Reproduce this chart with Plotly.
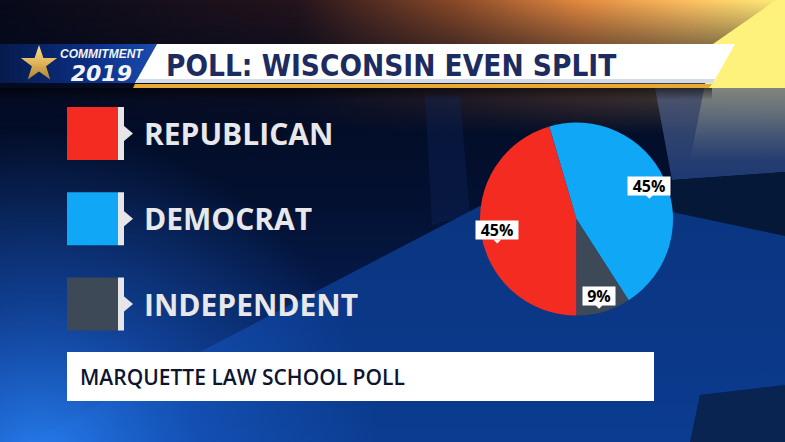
import base64
import math
import subprocess
import plotly.graph_objects as go

W, H = 785, 442

# ---------------- data ----------------
parties = ["REPUBLICAN", "DEMOCRAT", "INDEPENDENT"]
shares = [45, 45, 9]
party_colors = ["#f42b21", "#10a8f6", "#3e4957"]
title_text = "POLL: WISCONSIN EVEN SPLIT"
logo_top = "COMMITMENT"
logo_year = "2019"
source_text = "MARQUETTE LAW SCHOOL POLL"


def fam_list():
    try:
        return subprocess.run(["fc-list", ":", "family"], capture_output=True, text=True).stdout
    except Exception:
        return ""


fams = fam_list()
if "Liberation Sans Narrow" in fams:
    title_font, title_size = "Liberation Sans Narrow", 35
elif "DejaVu Sans Condensed" in fams:
    title_font, title_size = "DejaVu Sans Condensed", 29.5
else:
    title_font, title_size = "Roboto", 30


def px(x):
    return x / W


def py(y):
    return 1 - y / H


def path(points):
    return "M" + " L".join(f"{px(x):.5f},{py(y):.5f}" for x, y in points) + " Z"


# ---------------- background (decorative, gradients) ----------------
def star_pts(cx, cy, ro, ri):
    pts = []
    for k in range(10):
        a = -math.pi / 2 + k * math.pi / 5
        r = ro if k % 2 == 0 else ri
        pts.append(f"{cx + r*math.cos(a):.1f},{cy + r*math.sin(a):.1f}")
    return " ".join(pts)


svg = f'''<svg xmlns="http://www.w3.org/2000/svg" width="{W}" height="{H}" viewBox="0 0 {W} {H}">
<defs>
<linearGradient id="base" x1="0" y1="0" x2="0" y2="{H}" gradientUnits="userSpaceOnUse">
<stop offset="0" stop-color="#02081a"/>
<stop offset="0.45" stop-color="#031030"/>
<stop offset="0.8" stop-color="#06205a"/>
<stop offset="1" stop-color="#0a3580"/>
</linearGradient>
<radialGradient id="bl" cx="40" cy="470" r="340" gradientUnits="userSpaceOnUse">
<stop offset="0" stop-color="#2a84f8" stop-opacity="0.95"/>
<stop offset="0.5" stop-color="#1a60d0" stop-opacity="0.5"/>
<stop offset="1" stop-color="#1a60d0" stop-opacity="0"/>
</radialGradient>
<linearGradient id="sky" x1="0" y1="0" x2="{W}" y2="0" gradientUnits="userSpaceOnUse">
<stop offset="0" stop-color="#070a1a"/>
<stop offset="0.38" stop-color="#24141c"/>
<stop offset="0.58" stop-color="#8a4a28"/>
<stop offset="0.74" stop-color="#e48a40"/>
<stop offset="0.88" stop-color="#ffc262"/>
<stop offset="1" stop-color="#fff07a"/>
</linearGradient>
<linearGradient id="skyfade" x1="0" y1="0" x2="0" y2="135" gradientUnits="userSpaceOnUse">
<stop offset="0" stop-color="#fff"/>
<stop offset="0.33" stop-color="#888"/>
<stop offset="1" stop-color="#000"/>
</linearGradient>
<mask id="m1"><rect width="{W}" height="135" fill="url(#skyfade)"/></mask>
<linearGradient id="beamfade" x1="0" y1="0" x2="0" y2="160" gradientUnits="userSpaceOnUse">
<stop offset="0" stop-color="#fff"/>
<stop offset="0.55" stop-color="#fff"/>
<stop offset="1" stop-color="#000"/>
</linearGradient>
<mask id="m2"><rect width="{W}" height="160" fill="url(#beamfade)"/></mask>
<linearGradient id="steel" x1="0" y1="88" x2="0" y2="180" gradientUnits="userSpaceOnUse">
<stop offset="0" stop-color="#56607e"/>
<stop offset="1" stop-color="#27488a"/>
</linearGradient>
<linearGradient id="logo" x1="0" y1="0" x2="157" y2="0" gradientUnits="userSpaceOnUse">
<stop offset="0" stop-color="#061a4c"/>
<stop offset="0.6" stop-color="#0c3088"/>
<stop offset="1" stop-color="#1a4cae"/>
</linearGradient>
<linearGradient id="gold" x1="0" y1="44" x2="0" y2="82" gradientUnits="userSpaceOnUse">
<stop offset="0" stop-color="#fbe39a"/>
<stop offset="0.5" stop-color="#e0b458"/>
<stop offset="1" stop-color="#a87a2a"/>
</linearGradient>
<linearGradient id="shadow" x1="0" y1="88" x2="0" y2="100" gradientUnits="userSpaceOnUse">
<stop offset="0" stop-color="#000" stop-opacity="0.55"/>
<stop offset="1" stop-color="#000" stop-opacity="0"/>
</linearGradient>
</defs>
<rect width="{W}" height="{H}" fill="url(#base)"/>
<rect width="{W}" height="135" fill="url(#sky)" mask="url(#m1)"/>
<polygon points="713,44 776,0 785,0 785,160 690,160" fill="#fff27c" mask="url(#m2)"/>
<polygon points="655,88 785,88 785,172 672,180" fill="url(#steel)" opacity="0.75"/>
<polygon points="672,180 785,172 785,236 672,212" fill="#061838"/>
<polygon points="425,95 460,95 470,215 432,225" fill="#0f2c66" opacity="0.3"/>
<polygon points="0,456 480,206 672,212 785,236 785,385 700,395 690,442 0,442" fill="#0d3f95" opacity="0.8"/>
<polygon points="690,442 700,395 785,385 785,442" fill="#0a2452"/>
<rect width="{W}" height="{H}" fill="url(#bl)"/>
<rect x="0" y="88" width="712" height="12" fill="url(#shadow)"/>
<polygon points="0,44 157,44 135,83 0,83" fill="url(#logo)"/>
<polygon points="{star_pts(39, 64, 19, 7.5)}" fill="url(#gold)"/>
</svg>'''
bg_uri = "data:image/svg+xml;base64," + base64.b64encode(svg.encode()).decode()

fig = go.Figure()

# ---------------- pie ----------------
cx, cy = 576.5, 219.0
R = 96.5
fig.add_trace(go.Pie(
    labels=parties, values=shares, sort=False, direction="clockwise", rotation=180,
    marker=dict(colors=party_colors, line=dict(width=0)),
    textinfo="none", hoverinfo="label+value", showlegend=False,
    domain=dict(x=[px(cx - R), px(cx + R)], y=[py(cy + R), py(cy - R)]),
))

shapes = []
annotations = []

# slice value labels, placed at each slice's mid-angle
total = sum(shares)
cum = 0.0
for v in shares:
    mid = math.radians(180 + (cum + v / 2) / total * 360)
    cum += v
    lx = cx + 0.83 * R * math.sin(mid)
    ly = cy - 0.83 * R * math.cos(mid)
    annotations.append(dict(
        x=px(lx), y=py(ly), xref="paper", yref="paper", showarrow=False,
        text=f"<b>{v}%</b>", font=dict(family="Open Sans", size=16, color="#000000"),
        bgcolor="#ffffff", width=42 if v >= 10 else 32, height=18, borderpad=0,
        xanchor="center", yanchor="middle",
    ))
    shapes.append(dict(type="path", xref="paper", yref="paper",
                       path=path([(lx - 4, ly + 9), (lx + 4, ly + 9), (lx, ly + 13)]),
                       fillcolor="#ffffff", line=dict(width=0)))

# ---------------- legend (custom tabs) ----------------
for i, (name, col) in enumerate(zip(parties, party_colors)):
    c = 133.5 + i * 85.25
    shapes.append(dict(type="rect", xref="paper", yref="paper",
                       x0=px(67), x1=px(118), y0=py(c + 26.5), y1=py(c - 26.5),
                       fillcolor=col, line=dict(width=0)))
    shapes.append(dict(type="rect", xref="paper", yref="paper",
                       x0=px(118), x1=px(124), y0=py(c + 26.5), y1=py(c - 26.5),
                       fillcolor="#e6e6e8", line=dict(width=0)))
    shapes.append(dict(type="path", xref="paper", yref="paper",
                       path=path([(123.5, c - 8), (133, c), (123.5, c + 8)]),
                       fillcolor="#e6e6e8", line=dict(width=0)))
    annotations.append(dict(
        x=px(142), y=py(c), xref="paper", yref="paper", showarrow=False,
        text=f"<b>{name}</b>", font=dict(family="Open Sans", size=30, color="#e8e8ea"),
        xanchor="left", yanchor="middle",
    ))

# ---------------- header banner ----------------
shapes.append(dict(type="path", xref="paper", yref="paper",
                   path=path([(157, 44), (735, 44), (713, 83), (135, 83)]),
                   fillcolor="#ffffff", line=dict(width=0)))
shapes.append(dict(type="path", xref="paper", yref="paper",
                   path=path([(137, 79), (715, 79), (713, 83), (135, 83)]),
                   fillcolor="#d3dae8", line=dict(width=0)))
shapes.append(dict(type="path", xref="paper", yref="paper",
                   path=path([(135, 84), (712, 84), (709, 88), (133, 88)]),
                   fillcolor="#e7ab34", line=dict(width=0)))
annotations.append(dict(
    x=px(164), y=py(65.5), xref="paper", yref="paper", showarrow=False,
    text=f"<b>{title_text}</b>", font=dict(family=title_font, size=title_size, color="#1c2b60"),
    xanchor="left", yanchor="middle",
))
annotations.append(dict(
    x=px(102), y=py(66), xref="paper", yref="paper", showarrow=False,
    text=(f"<span style='font-size:12px;font-family:Liberation Sans'><b><i>{logo_top}</i></b></span><br>"
          f"<span style='font-size:22px'><b><i>{logo_year}</i></b></span>"),
    font=dict(family="DejaVu Sans", size=18, color="#f2f4f8"),
    xanchor="center", yanchor="middle", align="center",
))

# ---------------- source banner ----------------
shapes.append(dict(type="rect", xref="paper", yref="paper",
                   x0=px(67), x1=px(654), y0=py(401), y1=py(352),
                   fillcolor="#ffffff", line=dict(width=0)))
annotations.append(dict(
    x=px(78), y=py(377), xref="paper", yref="paper", showarrow=False,
    text=source_text, font=dict(family="Open Sans", size=21, color="#0e1530", weight=600),
    xanchor="left", yanchor="middle",
))

fig.update_layout(
    width=W, height=H, margin=dict(l=0, r=0, t=0, b=0),
    paper_bgcolor="#041437", plot_bgcolor="#041437",
    images=[dict(source=bg_uri, xref="paper", yref="paper", x=0, y=1, sizex=1, sizey=1,
                 xanchor="left", yanchor="top", sizing="stretch", layer="below")],
    shapes=shapes, annotations=annotations, showlegend=False,
)

fig.write_html("out.html", config={"displayModeBar": False})
